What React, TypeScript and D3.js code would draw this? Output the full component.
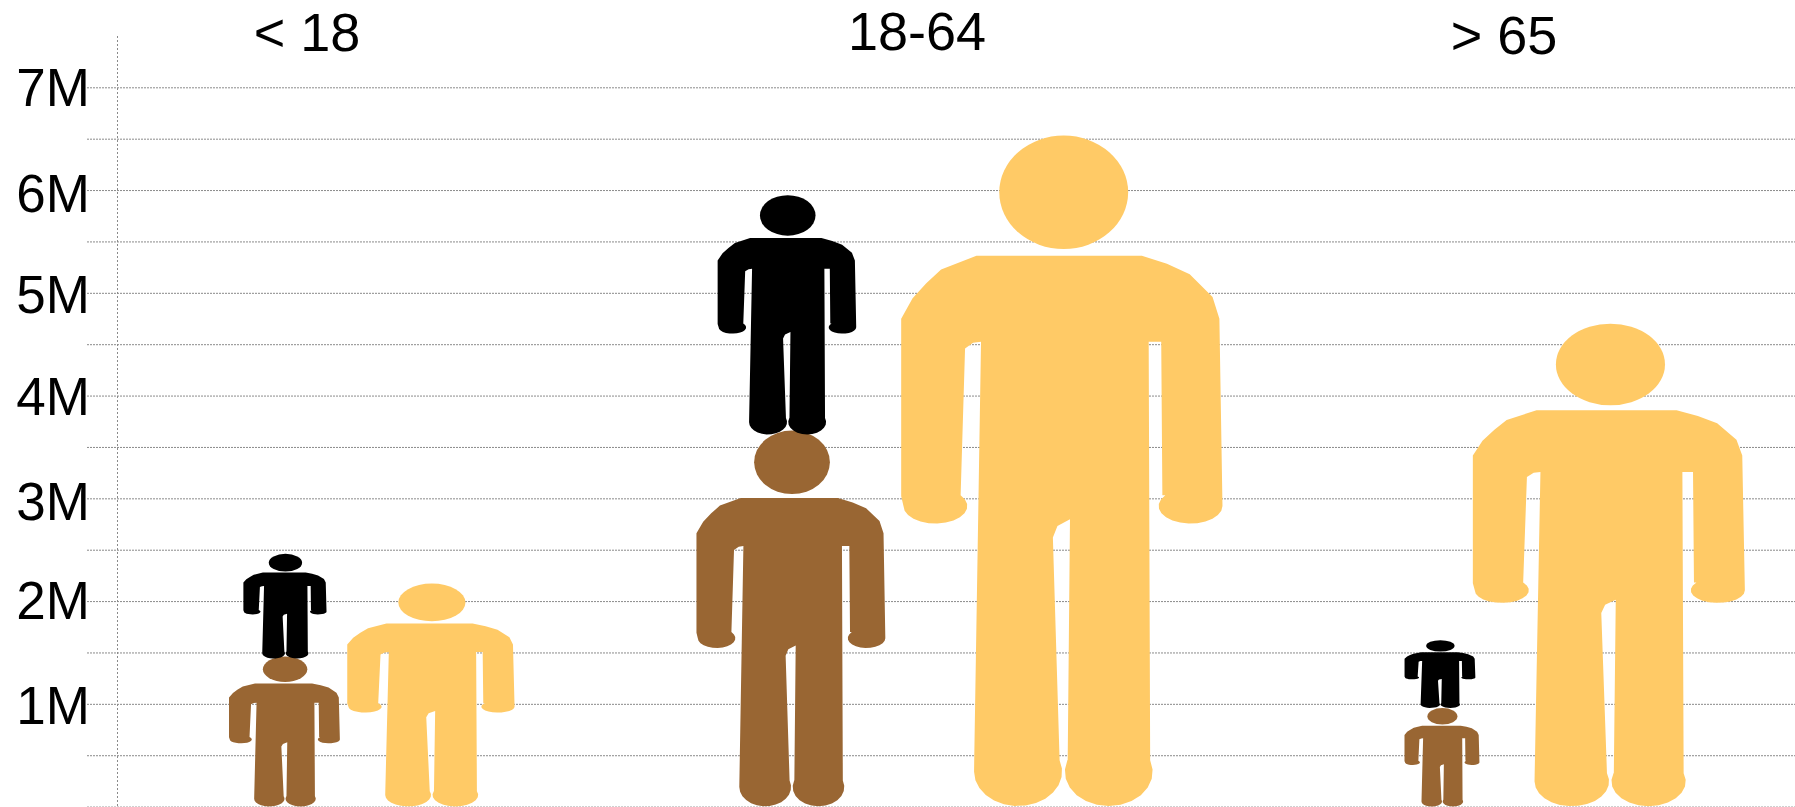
import React, { useEffect, useRef } from 'react';
import * as d3 from 'd3';

const ageGroups = ['< 18', '18-64', '> 65'];

// person height, in millions
const brownValues = [1.46, 3.66, 0.96];
const blackValues = [1.0, 2.29, 0.66];
const yellowValues = [2.17, 6.53, 4.7];

// how far the black feet dip into the brown head, in millions
const blackOverlap = [0.02, 0.04, 0];

// person breadth, on the same millions scale
const brownBreadth = [1.08, 1.84, 0.73];
const blackBreadth = [0.81, 1.35, 0.69];
const yellowBreadth = [1.63, 3.13, 2.65];

const majorTicks = [1, 2, 3, 4, 5, 6, 7];
const minorTicks = [0.5, 1.5, 2.5, 3.5, 4.5, 5.5, 6.5];

const width = 1795;
const height = 807;
const colors = { brown: '#996633', black: '#000000', yellow: '#FFCA66' };

// tick labels sit a little unevenly below their gridlines in the original
const tickLabelDrop = [20, 17, 21, 19, 20, 21, 18];

// rounded end (hand or foot) of the pictogram
const cap = (cx: number, cy: number, rx: number, ry: number, from: number, to: number, n = 14) =>
  d3.range(n + 1).map((i): [number, number] => {
    const a = from + ((to - from) * i) / n;
    return [cx + rx * Math.cos(a), cy + ry * Math.sin(a)];
  });

// the pictogram, drawn in a 282 x 586 box
const glyphBox = [282, 586];
const glyphOutline: [number, number][] = [
  [66, 105], [35, 117], [22, 129], [10, 142], [0, 160], [0, 315],
  ...cap(30, 323.5, 28, 15.3, Math.PI, -0.66),
  [56, 186], [63, 181], [70, 180],
  [64, 548],
  ...cap(102.5, 555.5, 38.6, 30, Math.PI, -0.34),
  [133, 351], [137, 341], [148, 335], [146, 545],
  ...cap(182, 555.5, 38.5, 30, Math.PI + 0.34, -0.34),
  [217, 180], [228, 180], [229, 314],
  ...cap(253.7, 323.5, 28, 15.3, Math.PI + 0.66, 0),
  [279, 160], [273, 141], [253, 121], [233, 112], [211, 105],
];
const glyphHead = { cx: 142.5, cy: 49.5, rx: 56.5, ry: 49.5 };

const titleX = d3.scaleOrdinal(ageGroups, [307, 917, 1504]);
const titleBaseline = d3.scaleOrdinal(ageGroups, [51, 50, 54]);
const brownX = d3.scaleOrdinal(ageGroups, [284.5, 791, 1442]);
const blackX = d3.scaleOrdinal(ageGroups, [285, 787, 1440]);
const yellowX = d3.scaleOrdinal(ageGroups, [431, 1062, 1609]);

const App = () => {
  const svgRef = useRef<SVGSVGElement>(null);

  useEffect(() => {
    const svg = d3.select(svgRef.current);
    svg.selectAll('*').remove();

    const yScale = d3.scaleLinear().domain([0, 7]).range([806.6, 87.3]);
    const breadthScale = d3.scaleLinear().domain([0, 1]).range([0, yScale(0) - yScale(1)]);

    const yAxis = d3.axisLeft(yScale)
      .tickValues([...majorTicks, ...minorTicks, 0])
      .tickSize(-(width - 87))
      .tickPadding(0)
      .tickFormat((d) => (majorTicks.includes(+d) ? `${d}M` : ''));

    const axisG = svg.append('g')
      .attr('transform', 'translate(87, 0)')
      .call(yAxis);
    axisG.select('.domain').remove();
    axisG.selectAll('line')
      .attr('stroke', '#8a8a8a')
      .attr('stroke-width', 1)
      .attr('stroke-dasharray', '2 1');
    axisG.selectAll('text')
      .attr('x', 3)
      .attr('dy', (d) => (majorTicks.includes(+d) ? tickLabelDrop[majorTicks.indexOf(+d)] : 0))
      .attr('font-family', 'Liberation Sans')
      .attr('font-size', 53)
      .attr('fill', '#000');

    svg.append('line')
      .attr('x1', 117.5)
      .attr('x2', 117.5)
      .attr('y1', 36)
      .attr('y2', height)
      .attr('stroke', '#8a8a8a')
      .attr('stroke-dasharray', '2 2');

    svg.selectAll('.title')
      .data(ageGroups)
      .enter()
      .append('text')
      .attr('class', 'title')
      .attr('x', (d) => titleX(d))
      .attr('y', (d) => titleBaseline(d))
      .attr('text-anchor', 'middle')
      .attr('font-family', 'Liberation Sans')
      .attr('font-size', 54)
      .text((d) => d);

    const stacked = d3.stack().keys(['brown', 'black'])(
      ageGroups.map((_, i) => ({ brown: brownValues[i], black: blackValues[i] })),
    );

    const people = ageGroups.flatMap((group, i) => [
      { color: colors.yellow, cx: yellowX(group), base: 0, top: yellowValues[i], breadth: yellowBreadth[i] },
      { color: colors.brown, cx: brownX(group), base: stacked[0][i][0], top: stacked[0][i][1], breadth: brownBreadth[i] },
      { color: colors.black, cx: blackX(group), base: stacked[1][i][0] - blackOverlap[i], top: stacked[1][i][1], breadth: blackBreadth[i] },
    ]);

    people.forEach((p) => {
      const half = breadthScale(p.breadth) / 2;
      const gx = d3.scaleLinear().domain([0, glyphBox[0]]).range([p.cx - half, p.cx + half]);
      const gy = d3.scaleLinear().domain([0, glyphBox[1]]).range([yScale(p.top), yScale(p.base)]);
      const outline = d3.line()
        .x((d) => gx(d[0]))
        .y((d) => gy(d[1]));

      const g = svg.append('g').attr('fill', p.color);
      g.append('path').attr('d', `${outline(glyphOutline)}Z`);
      g.append('ellipse')
        .attr('cx', gx(glyphHead.cx))
        .attr('cy', gy(glyphHead.cy))
        .attr('rx', gx(glyphHead.rx) - gx(0))
        .attr('ry', gy(glyphHead.ry) - gy(0));
    });
  }, []);

  return (
    <svg
      ref={svgRef}
      width={width}
      height={height}
      style={{ position: 'absolute', left: 0, top: 0, display: 'block', background: '#fff' }}
    />
  );
};

export default App;
